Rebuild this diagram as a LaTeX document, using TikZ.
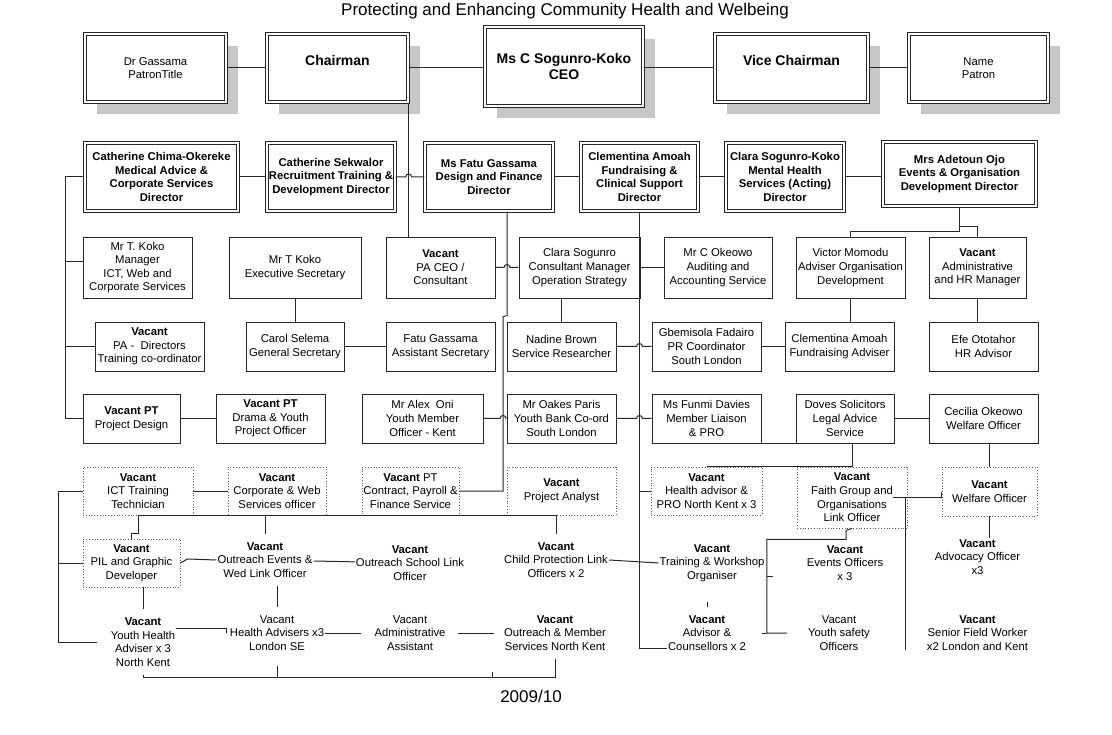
\documentclass[tikz,border=0pt]{standalone}
\usepackage{fontspec}
\setmainfont{Liberation Sans}
\usepackage{tikz}
\usetikzlibrary{shadows,calc}

\tikzset{
  txt/.style={font=\fontsize{11.3}{13.6}\selectfont},
  headbox/.style={txt, draw=black!85, fill=white, double, double distance=2pt, line width=0.8pt, align=center, inner sep=1pt,
    drop shadow={shadow xshift=12pt, shadow yshift=-12pt, fill=black!22, opacity=1}},
  headbig/.style={font=\fontsize{14}{16}\selectfont\bfseries},
  dirbox/.style={draw=black!85, double, double distance=2pt, line width=0.8pt, align=center, inner sep=1pt,
    font=\fontsize{11.3}{13.6}\selectfont\bfseries},
  postbox/.style={txt, draw=black!85, line width=0.9pt, align=center, inner sep=1pt},
  vacbox/.style={txt, draw=black!65, dotted, line width=0.8pt, align=center, inner sep=1pt},
  post/.style={txt, align=center, inner xsep=1pt, inner ysep=8pt},
  wire/.style={draw=black!85, line width=1pt},
}

\begin{document}
\begin{tikzpicture}[x=1pt, y=-1pt]
    \useasboundingbox (0,0) rectangle (1112,735);
    % Paths, nodes and wires:
    \node[font=\fontsize{17}{20}\selectfont, anchor=base] (title) at (565,16) {Protecting and Enhancing Community Health and Welbeing};
    \node[font=\fontsize{17}{20}\selectfont, anchor=base] (year) at (531,702) {2009/10};

    % board
    \node[headbox, minimum width=141.5pt, minimum height=68.5pt] (patronA) at (155.5,68) {Dr Gassama\\PatronTitle};
    \node[headbox, headbig, minimum width=141.5pt, minimum height=68.5pt] (chair) at (337.5,68) {Chairman\\ \mbox{}};
    \node[headbox, headbig, minimum width=158.5pt, minimum height=79.5pt] (ceo) at (564,66.5) {Ms C Sogunro-Koko\\CEO};
    \node[headbox, headbig, minimum width=153.5pt, minimum height=68.5pt] (vice) at (791.5,68) {Vice Chairman\\ \mbox{}};
    \node[headbox, minimum width=139.5pt, minimum height=68.5pt] (patronB) at (978.5,68) {Name\\Patron};

    % directors
    \node[dirbox, minimum width=153.5pt, minimum height=68.5pt] (d1) at (161.5,177) {Catherine Chima-Okereke\\Medical Advice \&\\Corporate Services\\Director};
    \node[dirbox, minimum width=128.5pt, minimum height=68.5pt] (d2) at (331,177) {Catherine Sekwalor\\Recruitment Training \&\\Development Director};
    \node[dirbox, minimum width=128.5pt, minimum height=68.5pt] (d3) at (489,177) {Ms Fatu Gassama\\Design and Finance\\Director};
    \node[dirbox, minimum width=117.5pt, minimum height=68.5pt] (d4) at (639.5,177) {Clementina Amoah\\Fundraising \&\\Clinical Support\\Director};
    \node[dirbox, minimum width=118.5pt, minimum height=68.5pt] (d5) at (785,177) {Clara Sogunro-Koko\\Mental Health\\Services (Acting)\\Director};
    \node[dirbox, minimum width=153.5pt, minimum height=64.5pt] (d6) at (959.5,174) {Mrs Adetoun Ojo\\Events \& Organisation\\Development Director};

    % managers
    \node[postbox, minimum width=109pt, minimum height=61pt] (m1) at (137.5,267.5) {Mr T. Koko\\Manager\\ICT, Web and\\Corporate Services};
    \node[postbox, minimum width=132pt, minimum height=61pt] (m2) at (295,267.5) {Mr T Koko\\Executive Secretary};
    \node[postbox, minimum width=109pt, minimum height=61pt] (m3) at (440.5,267.5) {\textbf{Vacant}\\PA CEO /\\Consultant};
    \node[postbox, minimum width=121pt, minimum height=61pt] (m4) at (579.5,267.5) {Clara Sogunro\\Consultant Manager\\Operation Strategy};
    \node[postbox, minimum width=108pt, minimum height=61pt] (m5) at (718,267.5) {Mr C Okeowo\\Auditing and\\Accounting Service};
    \node[postbox, minimum width=109pt, minimum height=61pt] (m6) at (850.5,267.5) {Victor Momodu\\Adviser Organisation\\Development};
    \node[postbox, minimum width=97pt, minimum height=61pt] (m7) at (977.5,267.5) {\textbf{Vacant}\\Administrative\\and HR Manager};

    \node[postbox, minimum width=109pt, minimum height=49pt] (r1) at (149.5,346.5) {\textbf{Vacant}\\PA -\ \ Directors\\Training co-ordinator};
    \node[postbox, minimum width=98pt, minimum height=49pt] (r2) at (295,346.5) {Carol Selema\\General Secretary};
    \node[postbox, minimum width=109pt, minimum height=49pt] (r3) at (440.5,346.5) {Fatu Gassama\\Assistant Secretary};
    \node[postbox, minimum width=109pt, minimum height=49pt] (r4) at (561.5,346.5) {Nadine Brown\\Service Researcher};
    \node[postbox, minimum width=109pt, minimum height=49pt] (r5) at (706.5,346.5) {Gbemisola Fadairo\\PR Coordinator\\South London};
    \node[postbox, minimum width=109pt, minimum height=49pt] (r6) at (839.5,346.5) {Clementina Amoah\\Fundraising Adviser};
    \node[postbox, minimum width=109pt, minimum height=49pt] (r7) at (983.5,346.5) {Efe Ototahor\\HR Advisor};

    \node[postbox, minimum width=97pt, minimum height=49pt] (s1) at (131.5,418.5) {\textbf{Vacant PT}\\Project Design};
    \node[postbox, minimum width=109pt, minimum height=49pt] (s2) at (270.5,418.5) {\textbf{Vacant PT}\\Drama \& Youth\\Project Officer};
    \node[postbox, minimum width=121pt, minimum height=49pt] (s3) at (422.5,418.5) {Mr Alex\ \ Oni\\Youth Member\\Officer - Kent};
    \node[postbox, minimum width=109pt, minimum height=49pt] (s4) at (561.5,418.5) {Mr Oakes Paris\\Youth Bank Co-ord\\South London};
    \node[postbox, minimum width=109pt, minimum height=49pt] (s5) at (706.5,418.5) {Ms Funmi Davies\\Member Liaison\\\& PRO};
    \node[postbox, minimum width=98pt, minimum height=49pt] (s6) at (845,418.5) {Doves Solicitors\\Legal Advice\\Service};
    \node[postbox, minimum width=109pt, minimum height=49pt] (s7) at (983.5,418.5) {Cecilia Okeowo\\Welfare Officer};

    % vacant posts
    \node[vacbox, minimum width=110pt, minimum height=48pt] (t1) at (138,491) {\textbf{Vacant}\\ICT Training\\Technician};
    \node[vacbox, minimum width=98pt, minimum height=48pt] (t2) at (277,491) {\textbf{Vacant}\\Corporate \& Web\\Services officer};
    \node[vacbox, minimum width=97pt, minimum height=48pt] (t3) at (410.5,491) {\textbf{Vacant} PT\\Contract, Payroll \&\\Finance Service};
    \node[vacbox, minimum width=109pt, minimum height=48pt] (t4) at (561.5,491) {\textbf{Vacant}\\Project Analyst};
    \node[vacbox, minimum width=111pt, minimum height=48pt] (t5) at (706.5,491) {\textbf{Vacant}\\Health advisor \&\\PRO North Kent x 3};
    \node[vacbox, minimum width=110pt, minimum height=61pt] (t6) at (852,497.5) {\textbf{Vacant}\\Faith Group and\\Organisations\\Link Officer};
    \node[vacbox, minimum width=95pt, minimum height=49pt] (t7) at (989.5,491.5) {\textbf{Vacant}\\Welfare Officer};

    \node[vacbox, minimum width=97pt, minimum height=48pt] (u1) at (131.5,563) {\textbf{Vacant}\\PIL and Graphic\\Developer};
    \node[post] (u2) at (265,560) {\textbf{Vacant}\\Outreach Events \&\\Wed Link Officer};
    \node[post] (u3) at (410,563) {\textbf{Vacant}\\Outreach School Link\\Officer};
    \node[post] (u4) at (556,560) {\textbf{Vacant}\\Child Protection Link\\Officers x 2};
    \node[post] (u5) at (712,563) {\textbf{Vacant}\\Training \& Workshop\\Organiser};
    \node[post] (u6) at (845,563) {\textbf{Vacant}\\Events Officers\\x 3};
    \node[post] (u7) at (977.5,557) {\textbf{Vacant}\\Advocacy Officer\\x3};

    \node[post] (v1) at (143,642) {\textbf{Vacant}\\Youth Health\\Adviser x 3\\North Kent};
    \node[post] (v2) at (277,633) {Vacant\\Health Advisers x3\\London SE};
    \node[post] (v3) at (410,633) {Vacant\\Administrative\\Assistant};
    \node[post] (v4) at (555,633) {\textbf{Vacant}\\Outreach \& Member\\Services North Kent};
    \node[post] (v5) at (707,633) {\textbf{Vacant}\\Advisor \&\\Counsellors x 2};
    \node[post] (v6) at (839,633) {Vacant\\Youth safety\\Officers};
    \node[post] (v7) at (977.5,633) {\textbf{Vacant}\\Senior Field Worker\\x2 London and Kent};

    % board wires
    \draw[wire] (patronA) -- (chair);
    \draw[wire] (chair.east) -- (chair.east -| ceo.west);
    \draw[wire] (ceo.east |- vice.west) -- (vice.west);
    \draw[wire] (vice) -- (patronB);
    \draw[wire] (chair.south east) -- (chair.south east |- m3.north);

    % director wires
    \coordinate (trunkL) at (65,177);
    \draw[wire] (trunkL) -- (d1.west);
    \draw[wire] (d1) -- (d2);
    \draw[wire] (d2.east) -- ($(d2.east -| chair.south east)+(-3,0)$) arc[start angle=180, end angle=0, radius=3pt] -- (d3.west);
    \draw[wire] (d3) -- (d4);
    \draw[wire] (d4) -- (d5);
    \draw[wire] (d5.east) -- (d5.east -| d6.west);
    \draw[wire] ([xshift=18pt]d3.south) -- ++(0,104) -- ++(-4,1) |- (t3.east);
    \draw[wire] (d4.south) |- ([yshift=-15pt]v5.west);
    \draw[wire] (d6.south) -- ++(0,25) -| (m6.north);
    \draw[wire] ([yshift=-20pt]d6.south) -| (m7.north);

    % manager wires
    \draw[wire] ([yshift=6pt]m1.west) -| (trunkL);
    \draw[wire] (r1.west) -| (trunkL);
    \draw[wire] (s1.west) -| (trunkL);
    \draw[wire] (m3.east) -- ($(m3.east -| d3.south)+(15,0)$) arc[start angle=180, end angle=0, radius=3pt] -- (m4.west);
    \draw[wire] (m4.east) -- (m5.west);
    \draw[wire] (m2) -- (r2);
    \draw[wire] (r4.north |- m4.south) -- (r4.north);
    \draw[wire] (m6.south) -- (m6.south |- r6.north);
    \draw[wire] (m7.south) -- (m7.south |- r7.north);
    \draw[wire] (r2) -- (r3);
    \draw[wire] (r4.east) -- ($(r4.east -| d4.south)+(-3,0)$) arc[start angle=180, end angle=0, radius=3pt] -- (r5.west);
    \draw[wire] (r5) -- (r6);
    \draw[wire] (s1) -- (s2);
    \draw[wire] (s3.east) -- ($(s3.east -| d3.south)+(11,0)$) arc[start angle=180, end angle=0, radius=3pt] -- (s4.west);
    \draw[wire] (s4.east) -- ($(s4.east -| d4.south)+(-3,0)$) arc[start angle=180, end angle=0, radius=3pt] -- (s5.west);
    \draw[wire] (s6) -- (s7);
    \draw[wire] (s5.south east) -- (s6.south west);
    \draw[wire] ([xshift=7pt]s6.south) |- (t5.north);
    \draw[wire] (t7.north |- s7.south) -- (t7.north);
    \draw[wire] (d4.south |- t5.west) -- (t5.west);

    % vacant wires
    \coordinate (trunkB) at (58,491);
    \draw[wire] (t1.west) -- (trunkB) |- ([xshift=-13pt]v1.west);
    \draw[wire] (u1.west) -- (u1.west -| trunkB);
    \draw[wire] (t1) -- (t2);
    \draw[wire] (u4.north) -- (u4.north |- t4.south) -| ([xshift=6.5pt,yshift=5pt]u1.north) -| (u1.north);
    \draw[wire] (u2.north |- t2.south) -- (u2.north);
    \draw[wire] (u1.east) -- ++(7,-4) -- (u2.west);
    \draw[wire] (u2) -- (u3);
    \draw[wire] (u2.south -| v2.north) -- (v2.north);
    \draw[wire] (u1.south -| v1.north) -- (v1.north);
    \draw[wire] (u4.east) -- (u5.west);
    \draw[wire] (v5.north) -- ++(0,-5);
    \draw[wire] (t6.south) -- ++(-6,2) -- ++(0,9) -| ([xshift=-40pt]v6.west) -- ([xshift=-20pt]v6.west);
    \draw[wire] ([xshift=-40pt]v6.west) -- ++(-5,0);
    \draw[wire] ([xshift=-40pt,yshift=57pt]v6.west) -- ++(6,0);
    \draw[wire] ([xshift=-14pt]t6.east) -| (t7.west);
    \draw[wire] ([xshift=-2pt]t6.east) -- ++(0,152);
    \draw[wire] (t7.south) -- ++(0,22);
    \draw[wire] ([yshift=14pt]v1.east) -| ([xshift=-2pt]v2.west);
    \draw[wire, shorten >=12pt] (v2) -- (v3);
    \draw[wire, shorten <=11pt, shorten >=9pt] (v3) -- (v4);
    \draw[wire] (v1.south) -- ++(0,3) coordinate (base) -| (v4.south);
    \draw[wire] ([yshift=-7pt]v2.south) -- (v2.south |- base);
    \draw[wire] ($(v4.south west |- base)+(-10,0)$) -- ++(0,-6);
\end{tikzpicture}
\end{document}
